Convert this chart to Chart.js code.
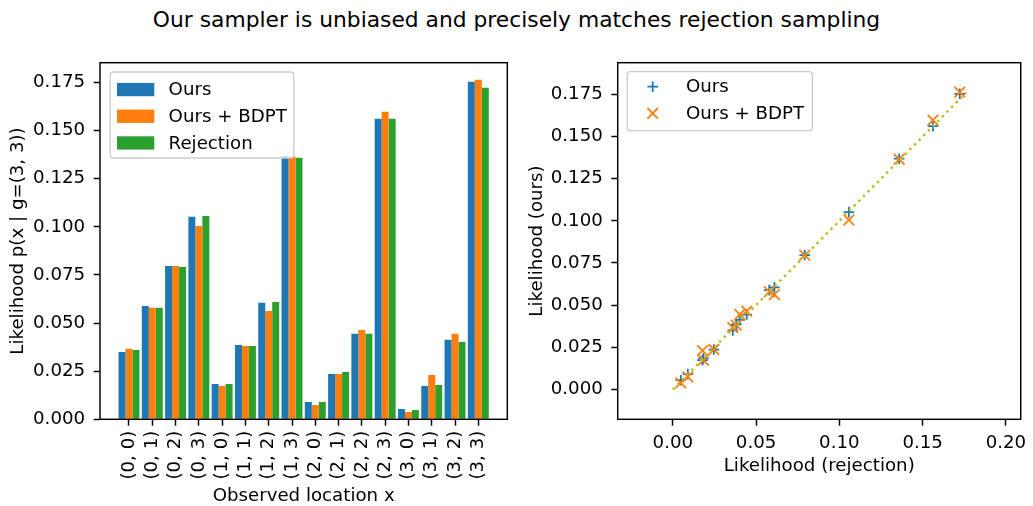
<!DOCTYPE html>
<html>
<head>
<meta charset="utf-8">
<script src="https://cdn.jsdelivr.net/npm/chart.js@4.4.1/dist/chart.umd.min.js"></script>
<style>
  html, body { margin: 0; padding: 0; background: #fff; }
  #wrap { position: relative; width: 1033px; height: 506px; overflow: hidden; }
  #title { position: absolute; left: 0; top: 6px; width: 1033px; text-align: center;
           font-family: "DejaVu Sans", sans-serif; font-size: 21.8px; color: #000; line-height: 28px; }
  #c1 { position: absolute; left: 0; top: 0; }
  #c2 { position: absolute; left: 516px; top: 0; }
</style>
</head>
<body>
<div id="wrap">
  <div id="title">Our sampler is unbiased and precisely matches rejection sampling</div>
  <canvas id="c1" width="516" height="506"></canvas>
  <canvas id="c2" width="517" height="506"></canvas>
</div>
<script>
// ---- data ----
const categories = ['(0, 0)','(0, 1)','(0, 2)','(0, 3)','(1, 0)','(1, 1)','(1, 2)','(1, 3)',
                    '(2, 0)','(2, 1)','(2, 2)','(2, 3)','(3, 0)','(3, 1)','(3, 2)','(3, 3)'];
const ours      = [0.0350,0.0589,0.0797,0.1052,0.0184,0.0386,0.0605,0.1369,0.0090,0.0236,0.0444,0.1562,0.0054,0.0173,0.0413,0.1754];
const oursBDPT  = [0.0366,0.0579,0.0797,0.1005,0.0173,0.0381,0.0563,0.1366,0.0074,0.0236,0.0464,0.1598,0.0038,0.0230,0.0444,0.1764];
const rejection = [0.0360,0.0579,0.0792,0.1057,0.0184,0.0381,0.0610,0.1359,0.0090,0.0246,0.0444,0.1562,0.0048,0.0178,0.0402,0.1723];
const yTicksLeft  = [0, 0.025, 0.05, 0.075, 0.1, 0.125, 0.15, 0.175];
const xTicksRight = [0, 0.05, 0.1, 0.15, 0.2];
const yTicksRight = [0, 0.025, 0.05, 0.075, 0.1, 0.125, 0.15, 0.175];
const diagLine = [0, 0.1762];

const C_BLUE = '#1f77b4', C_ORANGE = '#ff7f0e', C_GREEN = '#2ca02c', C_OLIVE = '#bcbd22';
const FONT = '"DejaVu Sans", sans-serif';
const FS = 18.2;
const TL = 6.4, LW = 1.45;

// ---- plugins ----
const frame = {
  id: 'frame',
  afterDatasetsDraw(chart) {
    const a = chart.chartArea, ctx = chart.ctx;
    ctx.save();
    ctx.strokeStyle = '#000'; ctx.lineWidth = LW;
    ctx.strokeRect(a.left, a.top, a.right - a.left, a.bottom - a.top);
    ctx.restore();
  }
};

function roundRect(ctx, x, y, w, h, r) {
  ctx.beginPath();
  ctx.moveTo(x + r, y); ctx.lineTo(x + w - r, y); ctx.arcTo(x + w, y, x + w, y + r, r);
  ctx.lineTo(x + w, y + h - r); ctx.arcTo(x + w, y + h, x + w - r, y + h, r);
  ctx.lineTo(x + r, y + h); ctx.arcTo(x, y + h, x, y + h - r, r);
  ctx.lineTo(x, y + r); ctx.arcTo(x, y, x + r, y, r); ctx.closePath();
}

const mplLegend = {
  id: 'mplLegend',
  afterDraw(chart, args, opts) {
    const a = chart.chartArea, ctx = chart.ctx;
    const x0 = a.left + opts.dx, y0 = a.top + opts.dy;
    ctx.save();
    roundRect(ctx, x0, y0, opts.w, opts.h, 3);
    ctx.fillStyle = 'rgba(255,255,255,0.8)'; ctx.fill();
    ctx.strokeStyle = '#cccccc'; ctx.lineWidth = 1.3; ctx.stroke();
    ctx.font = FS + 'px ' + FONT; ctx.textBaseline = 'middle'; ctx.textAlign = 'left';
    opts.items.forEach((it, i) => {
      const cy = y0 + opts.first + i * opts.step;
      if (it.kind === 'rect') {
        ctx.fillStyle = it.color;
        ctx.fillRect(x0 + 6.7, cy - 6.6, 37.3, 13.3);
      } else {
        ctx.strokeStyle = it.color; ctx.lineWidth = 1.8; ctx.beginPath();
        const mx = x0 + opts.mx;
        if (it.kind === 'plus') {
          ctx.moveTo(mx - 5.3, cy); ctx.lineTo(mx + 5.3, cy);
          ctx.moveTo(mx, cy - 5.3); ctx.lineTo(mx, cy + 5.3);
        } else {
          ctx.moveTo(mx - 5.3, cy - 5.3); ctx.lineTo(mx + 5.3, cy + 5.3);
          ctx.moveTo(mx + 5.3, cy - 5.3); ctx.lineTo(mx - 5.3, cy + 5.3);
        }
        ctx.stroke();
      }
      ctx.fillStyle = '#000';
      ctx.fillText(it.label, x0 + opts.tx, cy + 1);
    });
    ctx.restore();
  }
};

function fixedTicks(values) {
  return function (scale) { scale.ticks = values.map(v => ({ value: v })); };
}

const tickFont = { family: FONT, size: FS };
const titleFont = { family: FONT, size: FS };
const gridOpts = { drawOnChartArea: false, drawTicks: true, tickLength: TL, tickColor: '#000', tickWidth: LW, offset: false };

// ---- left: grouped bars ----
const barData = (arr) => arr.map((v, i) => ({ x: i, y: v }));
new Chart(document.getElementById('c1'), {
  type: 'bar',
  data: {
    datasets: [
      { label: 'Ours', data: barData(ours), backgroundColor: C_BLUE },
      { label: 'Ours + BDPT', data: barData(oursBDPT), backgroundColor: C_ORANGE },
      { label: 'Rejection', data: barData(rejection), backgroundColor: C_GREEN }
    ]
  },
  options: {
    responsive: false, animation: false,
    categoryPercentage: 0.9, barPercentage: 1.0,
    layout: { padding: { top: 62.7, right: 8.7, bottom: 0, left: 0 } },
    plugins: {
      legend: { display: false }, tooltip: { enabled: false },
      mplLegend: { dx: 10.3, dy: 9.3, w: 183.5, h: 86, first: 17.5, step: 26.7, tx: 58.3,
        items: [ { kind: 'rect', color: C_BLUE, label: 'Ours' },
                 { kind: 'rect', color: C_ORANGE, label: 'Ours + BDPT' },
                 { kind: 'rect', color: C_GREEN, label: 'Rejection' } ] }
    },
    scales: {
      x: {
        type: 'linear', min: -1.245, max: 16.245, offset: false,
        afterBuildTicks: fixedTicks(categories.map((c, i) => i)),
        afterFit(s) { s.height = 86.7; },
        grid: gridOpts,
        border: { display: false },
        ticks: { font: tickFont, color: '#000', padding: 5, minRotation: 90, maxRotation: 90, autoSkip: false,
                 callback: (v) => categories[v] },
        title: { display: true, text: 'Observed location x', font: titleFont, color: '#000', padding: { top: 0, bottom: -1 } }
      },
      y: {
        min: 0, max: 0.1853,
        afterBuildTicks: fixedTicks(yTicksLeft),
        afterFit(s) { s.width = 100; },
        grid: gridOpts,
        border: { display: false },
        ticks: { font: tickFont, color: '#000', padding: 8.5, callback: (v) => v.toFixed(3) },
        title: { display: true, text: 'Likelihood p(x | g=(3, 3))', font: titleFont, color: '#000', padding: { top: 7.5, bottom: 0 } }
      }
    }
  },
  plugins: [frame, mplLegend]
});

// ---- right: scatter ----
const ptsOurs = rejection.map((r, i) => ({ x: r, y: ours[i] }));
const ptsBDPT = rejection.map((r, i) => ({ x: r, y: oursBDPT[i] }));
new Chart(document.getElementById('c2'), {
  type: 'scatter',
  data: {
    datasets: [
      { label: 'diag', type: 'line', data: diagLine.map(v => ({ x: v, y: v })), borderColor: C_OLIVE,
        borderWidth: 2.5, borderDash: [2.5, 4.1], borderCapStyle: 'butt', pointRadius: 0, fill: false },
      { label: 'Ours + BDPT', data: ptsBDPT, pointStyle: 'crossRot', radius: 7.5, borderColor: C_ORANGE,
        backgroundColor: C_ORANGE, borderWidth: 1.8 },
      { label: 'Ours', data: ptsOurs, pointStyle: 'cross', radius: 5.3, borderColor: C_BLUE,
        backgroundColor: C_BLUE, borderWidth: 1.8 }
    ]
  },
  options: {
    responsive: false, animation: false,
    layout: { padding: { top: 62.7, right: 8.7, bottom: 29, left: 0 } },
    plugins: {
      legend: { display: false }, tooltip: { enabled: false },
      mplLegend: { dx: 9.6, dy: 9, w: 185, h: 59, first: 15, step: 26.6, mx: 25.4, tx: 58.7,
        items: [ { kind: 'plus', color: C_BLUE, label: 'Ours' },
                 { kind: 'x', color: C_ORANGE, label: 'Ours + BDPT' } ] }
    },
    scales: {
      x: {
        type: 'linear', min: -0.0331, max: 0.2089,
        afterBuildTicks: fixedTicks(xTicksRight),
        afterFit(s) { s.height = 57.7; },
        grid: gridOpts,
        border: { display: false },
        ticks: { font: tickFont, color: '#000', padding: 6.5, callback: (v) => v.toFixed(2) },
        title: { display: true, text: 'Likelihood (rejection)', font: titleFont, color: '#000', padding: { top: 0, bottom: 0 } }
      },
      y: {
        type: 'linear', min: -0.0178, max: 0.1939,
        afterBuildTicks: fixedTicks(yTicksRight),
        afterFit(s) { s.width = 101.7; },
        grid: gridOpts,
        border: { display: false },
        ticks: { font: tickFont, color: '#000', padding: 8.5, callback: (v) => v.toFixed(3) },
        title: { display: true, text: 'Likelihood (ours)', font: titleFont, color: '#000', padding: { top: 10, bottom: 0 } }
      }
    }
  },
  plugins: [frame, mplLegend]
});
</script>
</body>
</html>
